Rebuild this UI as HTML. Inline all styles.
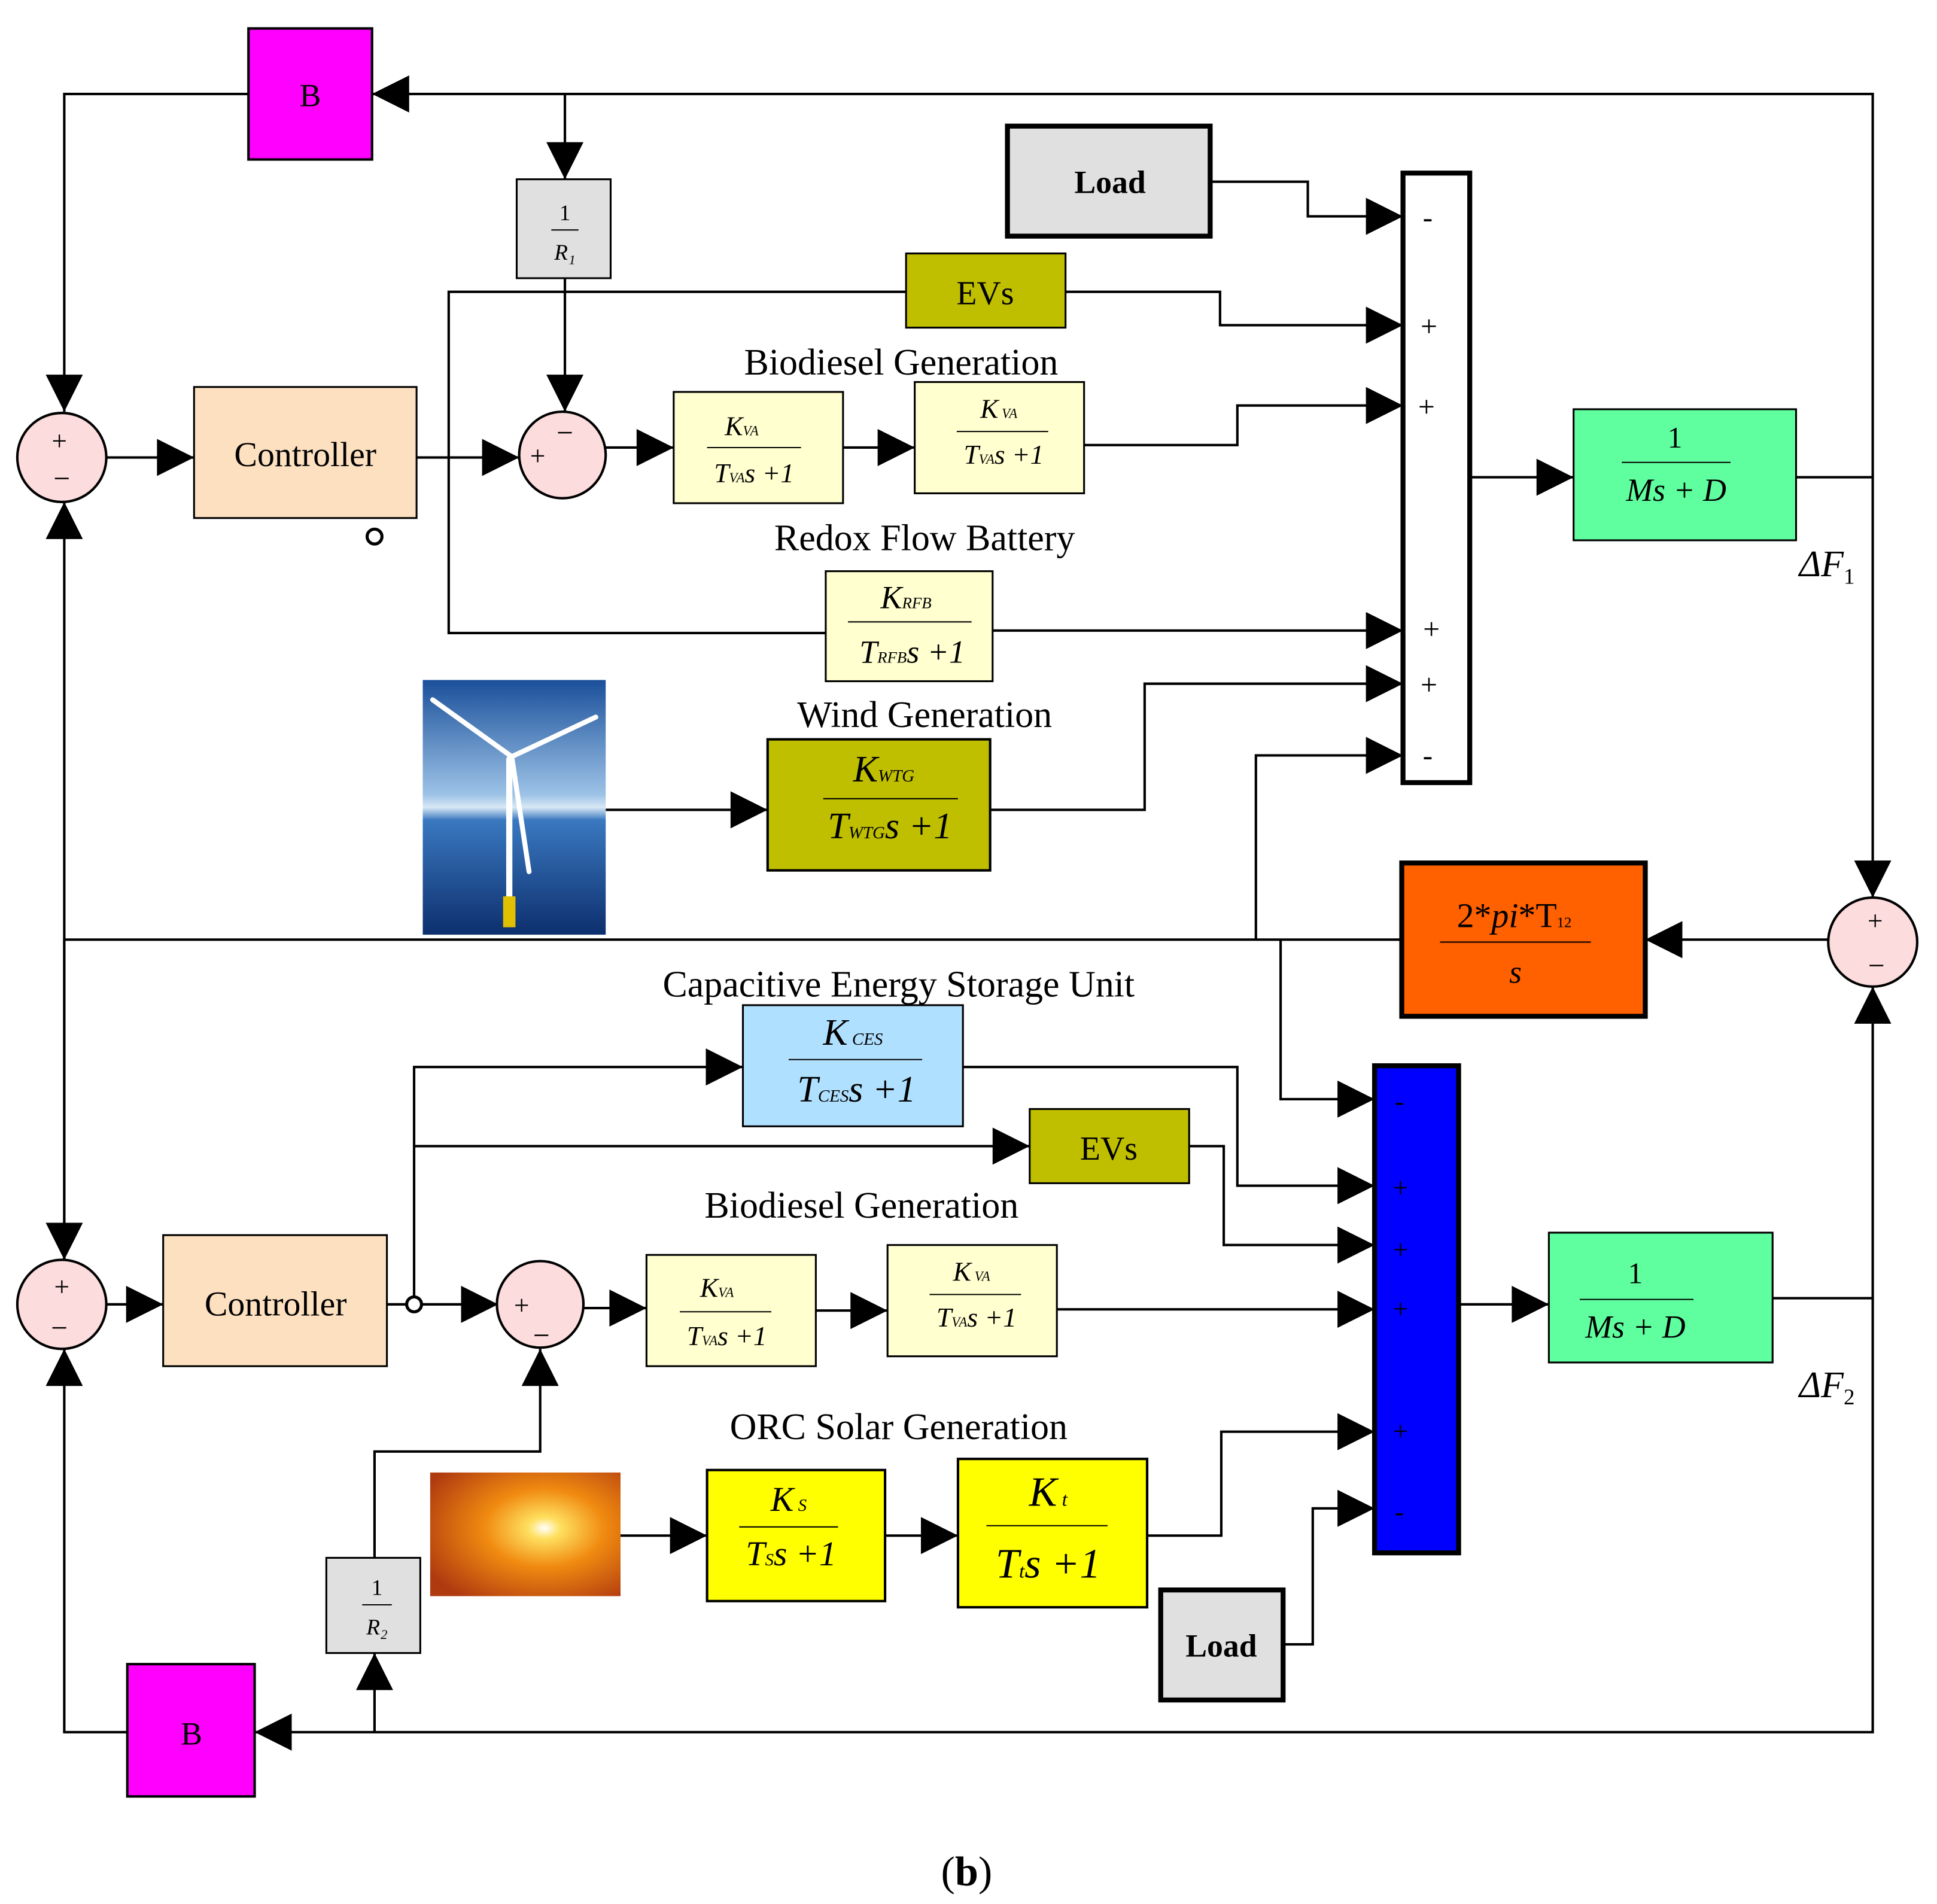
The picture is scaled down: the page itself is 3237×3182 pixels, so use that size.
<!DOCTYPE html>
<html><head><meta charset="utf-8"><style>
html,body{margin:0;padding:0;background:#fff;}
svg{display:block;}
text{font-family:"Liberation Serif",serif;fill:#000;}
</style></head><body>
<svg width="3237" height="3182" viewBox="0 0 1567 1540" preserveAspectRatio="none" xmlns="http://www.w3.org/2000/svg">
<defs>
<marker id="a" viewBox="0 0 10 10" refX="10" refY="5" markerWidth="14" markerHeight="14" markerUnits="userSpaceOnUse" orient="auto"><path d="M0,0 L10,5 L0,10 z" fill="#000"/></marker>
<marker id="b" viewBox="0 0 10 10" refX="10" refY="5" markerWidth="34" markerHeight="30" markerUnits="userSpaceOnUse" orient="auto"><path d="M0,0 L10,5 L0,10 z" fill="#000"/></marker>
<linearGradient id="sea" x1="0" y1="0" x2="0" y2="1"><stop offset="0" stop-color="#1a4f9a"/><stop offset="0.45" stop-color="#9cc2e6"/><stop offset="0.5" stop-color="#d8e8f5"/><stop offset="0.55" stop-color="#3a78c0"/><stop offset="1" stop-color="#0d2f6e"/></linearGradient>
<radialGradient id="sun" cx="0.6" cy="0.45" r="0.7"><stop offset="0" stop-color="#fff"/><stop offset="0.12" stop-color="#ffe060"/><stop offset="0.45" stop-color="#f08a10"/><stop offset="1" stop-color="#b03a10"/></radialGradient>
</defs>
<g stroke="#000" stroke-width="2" fill="none">
<polyline points="1515,386 1515,76 301,76" marker-end="url(#b)"/>
<polyline points="201,76 52,76 52,333" marker-end="url(#b)"/>
<polyline points="457,76 457,145" marker-end="url(#b)"/>
<polyline points="457,225 457,333" marker-end="url(#b)"/>
<polyline points="1453,386 1515,386 1515,726" marker-end="url(#b)"/>
<polyline points="1479,760 1331,760" marker-end="url(#b)"/>
<polyline points="1134,760 52,760"/>
<polyline points="52,1019 52,406" marker-end="url(#b)"/>
<polyline points="52,760 52,1019" marker-end="url(#b)"/>
<polyline points="1016,760 1016,611 1135,611" marker-end="url(#b)"/>
<polyline points="1036,760 1036,889 1112,889" marker-end="url(#b)"/>
<polyline points="86,370 157,370" marker-end="url(#b)"/>
<polyline points="337,370 420,370" marker-end="url(#b)"/>
<polyline points="363,370 363,236 733,236"/>
<polyline points="363,370 363,512 668,512"/>
<polyline points="862,236 987,236 987,263 1135,263" marker-end="url(#b)"/>
<polyline points="490,362 545,362" marker-end="url(#b)"/>
<polyline points="682,362 740,362" marker-end="url(#b)"/>
<polyline points="877,360 1001,360 1001,328 1135,328" marker-end="url(#b)"/>
<polyline points="979,147 1058,147 1058,175 1135,175" marker-end="url(#b)"/>
<polyline points="803,510 1135,510" marker-end="url(#b)"/>
<polyline points="490,655 621,655" marker-end="url(#b)"/>
<polyline points="801,655 926,655 926,553 1135,553" marker-end="url(#b)"/>
<polyline points="1189,386 1273,386" marker-end="url(#b)"/>
<polyline points="86,1055 132,1055" marker-end="url(#b)"/>
<polyline points="313,1055 403,1055" marker-end="url(#b)"/>
<polyline points="335,1055 335,863 601,863" marker-end="url(#b)"/>
<polyline points="335,927 833,927" marker-end="url(#b)"/>
<polyline points="779,863 1001,863 1001,959 1112,959" marker-end="url(#b)"/>
<polyline points="962,927 990,927 990,1007 1112,1007" marker-end="url(#b)"/>
<polyline points="472,1058 523,1058" marker-end="url(#b)"/>
<polyline points="660,1060 718,1060" marker-end="url(#b)"/>
<polyline points="855,1059 1112,1059" marker-end="url(#b)"/>
<polyline points="502,1242 572,1242" marker-end="url(#b)"/>
<polyline points="716,1242 775,1242" marker-end="url(#b)"/>
<polyline points="928,1242 988,1242 988,1158 1112,1158" marker-end="url(#b)"/>
<polyline points="1038,1330 1062,1330 1062,1220 1112,1220" marker-end="url(#b)"/>
<polyline points="1180,1055 1253,1055" marker-end="url(#b)"/>
<polyline points="1434,1050 1515,1050 1515,798" marker-end="url(#b)"/>
<polyline points="1515,1050 1515,1401 206,1401" marker-end="url(#b)"/>
<polyline points="303,1401 303,1337" marker-end="url(#b)"/>
<polyline points="303,1260 303,1174 437,1174 437,1091" marker-end="url(#b)"/>
<polyline points="103,1401 52,1401 52,1091" marker-end="url(#b)"/>
</g>
<rect x="201" y="23" width="100" height="106" fill="#ff00ff" stroke="#000" stroke-width="2"/>
<text x="251" y="86" font-size="26" text-anchor="middle">B</text>
<rect x="418" y="145" width="76" height="80" fill="#e0e0e0" stroke="#000" stroke-width="1.5"/>
<text x="457" y="178" font-size="18" text-anchor="middle">1</text><line x1="446" y1="186" x2="468" y2="186" stroke="#000"/><text x="457" y="210" font-size="18" font-style="italic" text-anchor="middle">R₁</text>
<circle cx="50" cy="370" r="36" fill="#fcdcdc" stroke="#000" stroke-width="2"/>
<text x="48" y="364" font-size="22" text-anchor="middle">+</text><text x="50" y="395" font-size="24" text-anchor="middle">−</text>
<rect x="157" y="313" width="180" height="106" fill="#fde0c0" stroke="#000" stroke-width="1.5"/>
<text x="247" y="377" font-size="28" text-anchor="middle">Controller</text>
<circle cx="303" cy="434" r="6" fill="#fff" stroke="#000" stroke-width="2.5"/>
<circle cx="455" cy="368" r="35" fill="#fcdcdc" stroke="#000" stroke-width="2"/>
<text x="435" y="376" font-size="22" text-anchor="middle">+</text><text x="457" y="358" font-size="24" text-anchor="middle">−</text>
<rect x="545" y="317" width="137" height="90" fill="#ffffd0" stroke="#000" stroke-width="1.5"/>
<text x="600" y="352" font-size="22" font-style="italic" text-anchor="middle">K<tspan font-size="11">VA</tspan></text><line x1="572" y1="362" x2="648" y2="362" stroke="#000"/><text x="610" y="390" font-size="22" font-style="italic" text-anchor="middle">T<tspan font-size="11">VA</tspan>s +1</text>
<rect x="740" y="309" width="137" height="90" fill="#ffffd0" stroke="#000" stroke-width="1.5"/>
<text x="808" y="338" font-size="22" font-style="italic" text-anchor="middle">K<tspan font-size="11"> VA</tspan></text><line x1="774" y1="349" x2="848" y2="349" stroke="#000"/><text x="812" y="375" font-size="22" font-style="italic" text-anchor="middle">T<tspan font-size="11">VA</tspan>s +1</text>
<rect x="815" y="102" width="164" height="89" fill="#e0e0e0" stroke="#000" stroke-width="4"/>
<text x="898" y="156" font-size="26" font-weight="bold" text-anchor="middle">Load</text>
<rect x="733" y="205" width="129" height="60" fill="#bfbf00" stroke="#000" stroke-width="1.5"/>
<text x="797" y="246" font-size="27" text-anchor="middle">EVs</text>
<rect x="1135" y="140" width="54" height="493" fill="#fff" stroke="#000" stroke-width="4"/>
<g font-size="24" text-anchor="middle"><text x="1155" y="184">-</text><text x="1156" y="272">+</text><text x="1154" y="337">+</text><text x="1158" y="517">+</text><text x="1156" y="562">+</text><text x="1155" y="619">-</text></g>
<rect x="1273" y="331" width="180" height="106" fill="#5fff9f" stroke="#000" stroke-width="1.5"/>
<text x="1355" y="362" font-size="24" text-anchor="middle">1</text><line x1="1312" y1="374" x2="1400" y2="374" stroke="#000"/><text x="1356" y="405" font-size="26" font-style="italic" text-anchor="middle">Ms + D</text>
<text x="1478" y="466" font-size="30" font-style="italic" text-anchor="middle">ΔF<tspan font-size="18" font-style="normal" dy="6">1</tspan></text>
<text x="729" y="303" font-size="30" text-anchor="middle">Biodiesel Generation</text>
<text x="748" y="445" font-size="30" text-anchor="middle">Redox Flow Battery</text>
<rect x="668" y="462" width="135" height="89" fill="#ffffd0" stroke="#000" stroke-width="1.5"/>
<text x="733" y="492" font-size="26" font-style="italic" text-anchor="middle">K<tspan font-size="13">RFB</tspan></text><line x1="686" y1="503" x2="786" y2="503" stroke="#000"/><text x="738" y="536" font-size="26" font-style="italic" text-anchor="middle">T<tspan font-size="13">RFB</tspan>s +1</text>
<text x="748" y="588" font-size="30" text-anchor="middle">Wind Generation</text>
<rect x="621" y="598" width="180" height="106" fill="#bfbf00" stroke="#000" stroke-width="2"/>
<text x="715" y="632" font-size="30" font-style="italic" text-anchor="middle">K<tspan font-size="14">WTG</tspan></text><line x1="666" y1="646" x2="775" y2="646" stroke="#000"/><text x="720" y="678" font-size="30" font-style="italic" text-anchor="middle">T<tspan font-size="14">WTG</tspan>s +1</text>
<rect x="342" y="550" width="148" height="206" fill="url(#sea)"/>
<g stroke="#fff" stroke-width="4" stroke-linecap="round"><line x1="414" y1="612" x2="350" y2="566"/><line x1="414" y1="612" x2="482" y2="580"/><line x1="414" y1="612" x2="428" y2="705"/><line x1="412" y1="614" x2="412" y2="730" stroke-width="5"/></g>
<rect x="407" y="725" width="10" height="25" fill="#e0c000"/>
<rect x="1134" y="698" width="197" height="124" fill="#ff6000" stroke="#000" stroke-width="4"/>
<text x="1225" y="750" font-size="28" text-anchor="middle">2*<tspan font-style="italic">pi</tspan>*T<tspan font-size="12">12</tspan></text><line x1="1165" y1="762" x2="1287" y2="762" stroke="#000"/><text x="1226" y="795" font-size="26" font-style="italic" text-anchor="middle">s</text>
<circle cx="1515" cy="762" r="36" fill="#fcdcdc" stroke="#000" stroke-width="2"/>
<text x="1517" y="752" font-size="22" text-anchor="middle">+</text><text x="1518" y="789" font-size="24" text-anchor="middle">−</text>
<text x="727" y="806" font-size="30" text-anchor="middle">Capacitive Energy Storage Unit</text>
<rect x="601" y="813" width="178" height="98" fill="#b0e0ff" stroke="#000" stroke-width="1.5"/>
<text x="690" y="845" font-size="30" font-style="italic" text-anchor="middle">K<tspan font-size="14"> CES</tspan></text><line x1="638" y1="857" x2="746" y2="857" stroke="#000"/><text x="693" y="891" font-size="30" font-style="italic" text-anchor="middle">T<tspan font-size="14">CES</tspan>s +1</text>
<rect x="833" y="897" width="129" height="60" fill="#bfbf00" stroke="#000" stroke-width="1.5"/>
<text x="897" y="938" font-size="27" text-anchor="middle">EVs</text>
<text x="697" y="985" font-size="30" text-anchor="middle">Biodiesel Generation</text>
<circle cx="50" cy="1055" r="36" fill="#fcdcdc" stroke="#000" stroke-width="2"/>
<text x="50" y="1048" font-size="22" text-anchor="middle">+</text><text x="48" y="1082" font-size="24" text-anchor="middle">−</text>
<rect x="132" y="999" width="181" height="106" fill="#fde0c0" stroke="#000" stroke-width="1.5"/>
<text x="223" y="1064" font-size="28" text-anchor="middle">Controller</text>
<circle cx="335" cy="1055" r="6" fill="#fff" stroke="#000" stroke-width="2.5"/>
<circle cx="437" cy="1055" r="35" fill="#fcdcdc" stroke="#000" stroke-width="2"/>
<text x="422" y="1063" font-size="22" text-anchor="middle">+</text><text x="438" y="1088" font-size="24" text-anchor="middle">−</text>
<rect x="523" y="1015" width="137" height="90" fill="#ffffd0" stroke="#000" stroke-width="1.5"/>
<text x="580" y="1049" font-size="22" font-style="italic" text-anchor="middle">K<tspan font-size="11">VA</tspan></text><line x1="550" y1="1061" x2="624" y2="1061" stroke="#000"/><text x="588" y="1088" font-size="22" font-style="italic" text-anchor="middle">T<tspan font-size="11">VA</tspan>s +1</text>
<rect x="718" y="1007" width="137" height="90" fill="#ffffd0" stroke="#000" stroke-width="1.5"/>
<text x="786" y="1036" font-size="22" font-style="italic" text-anchor="middle">K<tspan font-size="11"> VA</tspan></text><line x1="752" y1="1047" x2="826" y2="1047" stroke="#000"/><text x="790" y="1073" font-size="22" font-style="italic" text-anchor="middle">T<tspan font-size="11">VA</tspan>s +1</text>
<rect x="1112" y="862" width="68" height="394" fill="#0000ff" stroke="#000" stroke-width="4"/>
<g font-size="22" text-anchor="middle"><text x="1132" y="898">-</text><text x="1133" y="968">+</text><text x="1133" y="1018">+</text><text x="1133" y="1066">+</text><text x="1133" y="1165">+</text><text x="1132" y="1230">-</text></g>
<rect x="1253" y="997" width="181" height="105" fill="#5fff9f" stroke="#000" stroke-width="1.5"/>
<text x="1323" y="1038" font-size="24" text-anchor="middle">1</text><line x1="1278" y1="1051" x2="1370" y2="1051" stroke="#000"/><text x="1323" y="1082" font-size="26" font-style="italic" text-anchor="middle">Ms + D</text>
<text x="1478" y="1130" font-size="30" font-style="italic" text-anchor="middle">ΔF<tspan font-size="18" font-style="normal" dy="6">2</tspan></text>
<text x="727" y="1164" font-size="30" text-anchor="middle">ORC Solar Generation</text>
<rect x="348" y="1191" width="154" height="100" fill="url(#sun)"/>
<rect x="572" y="1189" width="144" height="106" fill="#ffff00" stroke="#000" stroke-width="2"/>
<text x="638" y="1222" font-size="28" font-style="italic" text-anchor="middle">K<tspan font-size="14"> S</tspan></text><line x1="598" y1="1235" x2="678" y2="1235" stroke="#000"/><text x="640" y="1266" font-size="28" font-style="italic" text-anchor="middle">T<tspan font-size="14">S</tspan>s +1</text>
<rect x="775" y="1180" width="153" height="120" fill="#ffff00" stroke="#000" stroke-width="2"/>
<text x="848" y="1218" font-size="34" font-style="italic" text-anchor="middle">K<tspan font-size="16"> t</tspan></text><line x1="798" y1="1234" x2="896" y2="1234" stroke="#000"/><text x="848" y="1276" font-size="34" font-style="italic" text-anchor="middle">T<tspan font-size="16">t</tspan>s +1</text>
<rect x="939" y="1286" width="99" height="89" fill="#e0e0e0" stroke="#000" stroke-width="4"/>
<text x="988" y="1340" font-size="26" font-weight="bold" text-anchor="middle">Load</text>
<rect x="264" y="1260" width="76" height="77" fill="#e0e0e0" stroke="#000" stroke-width="1.5"/>
<text x="305" y="1290" font-size="18" text-anchor="middle">1</text><line x1="293" y1="1298" x2="317" y2="1298" stroke="#000"/><text x="305" y="1322" font-size="18" font-style="italic" text-anchor="middle">R₂</text>
<rect x="103" y="1346" width="103" height="107" fill="#ff00ff" stroke="#000" stroke-width="2"/>
<text x="155" y="1411" font-size="26" text-anchor="middle">B</text>
<text x="782" y="1525" font-size="34" text-anchor="middle">(<tspan font-weight="bold">b</tspan>)</text>
</svg>
</body></html>
